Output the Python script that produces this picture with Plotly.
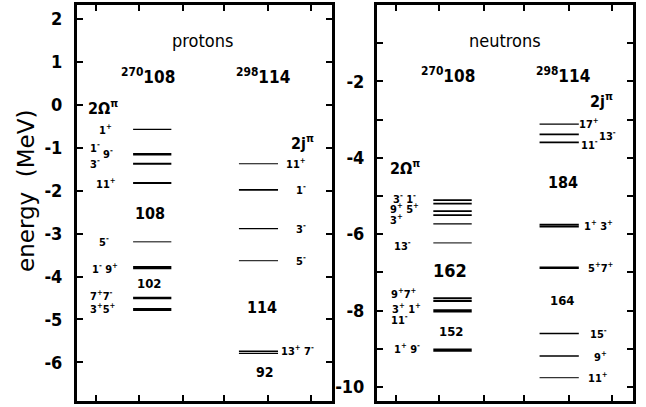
import plotly.graph_objects as go

FONT = "DejaVu Sans Condensed, Liberation Sans Narrow, Arial Narrow, Liberation Sans, Arial, sans-serif"

# ---------------- data (energies in MeV) ----------------
# protons, 270-108 (deformed, 2*Omega^pi)
prot108_E = [-0.57, -1.15, -1.37, -1.82, -3.19, -3.79, -4.50, -4.77]
prot108_w = [1.3, 2.6, 2.0, 2.0, 1.0, 3.2, 2.6, 3.0]
# protons, 298-114 (spherical, 2j^pi)
prot114_E = [-1.37, -1.98, -2.88, -3.63, -5.74, -5.79]
prot114_w = [1.2, 1.6, 1.3, 1.0, 1.3, 1.3]
# neutrons, 270-108
neut108_E = [-5.11, -5.20, -5.40, -5.50, -5.73, -6.23, -7.68, -7.75, -8.01, -9.04]
neut108_w = [1.8, 1.8, 1.8, 1.8, 1.3, 1.0, 2.0, 2.0, 3.2, 3.2]
# neutrons, 298-114
neut114_E = [-3.12, -3.39, -3.60, -5.75, -5.80, -6.88, -8.60, -9.19, -9.76]
neut114_w = [1.2, 1.8, 1.8, 1.8, 1.8, 2.4, 1.5, 1.5, 1.0]

# level segments (x extent of each nucleus column)
col108 = [1.32, 2.22]
col114 = [3.81, 4.73]

# tick labels
left_ticks = [2, 1, 0, -1, -2, -3, -4, -5, -6]
right_ticks = [-1, -2, -3, -4, -5, -6, -7, -8, -9, -10]

# level labels: (text, x, y)
prot_labels = [
    ("1<sup>+</sup>", 0.66, -0.57), ("1<sup>-</sup>", 0.42, -1.0), ("9<sup>-</sup>", 0.73, -1.13),
    ("3<sup>-</sup>", 0.42, -1.37), ("11<sup>+</sup>", 0.68, -1.84), ("5<sup>-</sup>", 0.63, -3.19),
    ("1<sup>-</sup> 9<sup>+</sup>", 0.66, -3.80), ("7<sup>+</sup>7<sup>-</sup>", 0.57, -4.44),
    ("3<sup>+</sup>5<sup>+</sup>", 0.61, -4.74),
    ("11<sup>+</sup>", 5.15, -1.37), ("1<sup>-</sup>", 5.27, -1.98), ("3<sup>-</sup>", 5.27, -2.88),
    ("5<sup>-</sup>", 5.27, -3.63), ("13<sup>+</sup> 7<sup>-</sup>", 5.18, -5.72),
]
neut_labels = [
    ("3<sup>-</sup> 1<sup>-</sup>", 0.64, -5.06), ("9<sup>+</sup> 5<sup>+</sup>", 0.64, -5.34),
    ("3<sup>+</sup>", 0.45, -5.62), ("13<sup>-</sup>", 0.59, -6.31),
    ("9<sup>+</sup>7<sup>+</sup>", 0.64, -7.55), ("3<sup>+</sup> 1<sup>+</sup>", 0.68, -7.94),
    ("11<sup>-</sup>", 0.52, -8.23), ("1<sup>+</sup> 9<sup>-</sup>", 0.70, -9.0),
    ("17<sup>+</sup>", 4.97, -3.10), ("11<sup>-</sup>", 4.97, -3.64), ("13<sup>-</sup>", 5.40, -3.42),
    ("1<sup>+</sup> 3<sup>+</sup>", 5.2, -5.77), ("5<sup>+</sup>7<sup>+</sup>", 5.25, -6.88),
    ("15<sup>-</sup>", 5.18, -8.60), ("9<sup>+</sup>", 5.23, -9.20), ("11<sup>+</sup>", 5.18, -9.76),
]

fig = go.Figure()


def add_levels(E, W, col, xa, ya):
    for e, w in zip(E, W):
        fig.add_trace(go.Scatter(x=col, y=[e, e], mode="lines", xaxis=xa, yaxis=ya,
                                 line=dict(color="black", width=w), hoverinfo="skip",
                                 showlegend=False))


add_levels(prot108_E, prot108_w, col108, "x", "y")
add_levels(prot114_E, prot114_w, col114, "x", "y")
add_levels(neut108_E, neut108_w, col108, "x2", "y2")
add_levels(neut114_E, neut114_w, col114, "x2", "y2")

ann = []


def add_text(t, x, y, xr, yr, size, bold=True):
    ann.append(dict(text=t, x=x, y=y, xref=xr, yref=yr, showarrow=False,
                    xanchor="center", yanchor="middle",
                    font=dict(family=FONT, size=size, color="black",
                              weight="bold" if bold else "normal")))


for t, x, y in prot_labels:
    add_text(t, x, y, "x", "y", 11)
for t, x, y in neut_labels:
    add_text(t, x, y, "x2", "y2", 11)

# headers and shell gaps, protons
add_text("protons", 2.96, 1.51, "x", "y", 18, bold=False)
add_text("<sup>270</sup>108", 1.67, 0.67, "x", "y", 17)
add_text("<sup>298</sup>114", 4.38, 0.67, "x", "y", 17)
add_text("2Ω<sup>π</sup>", 0.61, -0.05, "x", "y", 16)
add_text("2j<sup>π</sup>", 5.30, -0.88, "x", "y", 16)
add_text("108", 1.72, -2.53, "x", "y", 16)
add_text("102", 1.70, -4.16, "x", "y", 13)
add_text("114", 4.35, -4.72, "x", "y", 16)
add_text("92", 4.42, -6.23, "x", "y", 14)
# neutrons
add_text("neutrons", 3.0, -0.93, "x2", "y2", 18, bold=False)
add_text("<sup>270</sup>108", 1.66, -1.84, "x2", "y2", 17)
add_text("<sup>298</sup>114", 4.36, -1.84, "x2", "y2", 17)
add_text("2j<sup>π</sup>", 5.27, -2.5, "x2", "y2", 16)
add_text("2Ω<sup>π</sup>", 0.66, -4.25, "x2", "y2", 16)
add_text("184", 4.36, -4.64, "x2", "y2", 16)
add_text("162", 1.71, -6.94, "x2", "y2", 18)
add_text("164", 4.34, -7.75, "x2", "y2", 13)
add_text("152", 1.73, -8.54, "x2", "y2", 13)

# y axis title
ann.append(dict(text="energy  (MeV)", x=26 / 646, y=1 - 191 / 407, xref="paper", yref="paper",
                showarrow=False, textangle=-90, xanchor="center", yanchor="middle",
                font=dict(family="DejaVu Sans, Liberation Sans, sans-serif", size=23, color="black")))

ydom = [1 - 401 / 407, 1 - 5 / 407]
xticks = [0.45, 1.45, 2.5, 3.45, 4.5, 5.5]

common = dict(showline=True, linewidth=3, linecolor="black", mirror="allticks", ticks="inside",
              ticklen=6, tickwidth=2, tickcolor="black", showgrid=False, zeroline=False,
              fixedrange=True)

fig.update_layout(
    width=646, height=407, margin=dict(l=0, r=0, t=0, b=0),
    paper_bgcolor="white", plot_bgcolor="white", showlegend=False,
    annotations=ann,
    xaxis=dict(domain=[77 / 646, 332 / 646], range=[0, 6], tickvals=xticks,
               showticklabels=False, anchor="y", **common),
    yaxis=dict(domain=ydom, range=[-6.9, 2.33], tickvals=left_ticks,
               ticktext=[str(v) for v in left_ticks], anchor="x", ticklabelstandoff=8,
               tickfont=dict(family=FONT, size=18, color="black", weight="bold"), **common),
    xaxis2=dict(domain=[377 / 646, 633 / 646], range=[0, 6], tickvals=xticks,
                showticklabels=False, anchor="y2", **common),
    yaxis2=dict(domain=ydom, range=[-10.37, 0], tickvals=right_ticks,
                ticktext=[str(v) if v % 2 == 0 else "" for v in right_ticks], anchor="x2",
                ticklabelstandoff=6,
                tickfont=dict(family=FONT, size=18, color="black", weight="bold"), **common),
)

fig.write_html("out.html")
